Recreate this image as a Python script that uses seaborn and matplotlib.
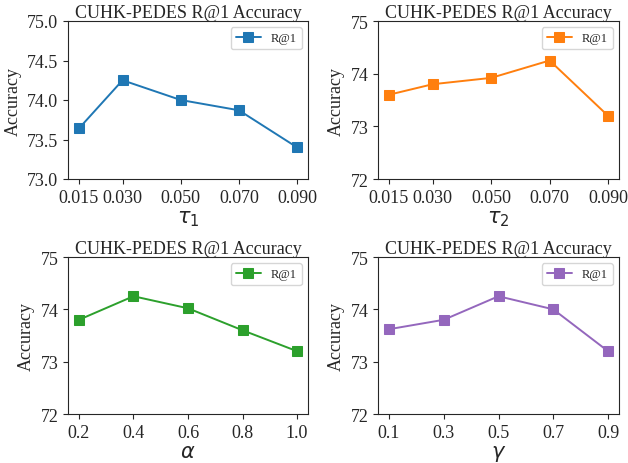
import pandas as pd
import numpy as np
import matplotlib
matplotlib.use("Agg")
import matplotlib.pyplot as plt
import seaborn as sns

# valores (R@1 no CUHK-PEDES)
tau1 = [0.015, 0.030, 0.050, 0.070, 0.090]
acc_tau1 = [73.64, 74.25, 74.00, 73.87, 73.40]

tau2 = [0.015, 0.030, 0.050, 0.070, 0.090]
acc_tau2 = [73.60, 73.80, 73.92, 74.25, 73.20]

alpha = [0.2, 0.4, 0.6, 0.8, 1.0]
acc_alpha = [73.80, 74.25, 74.02, 73.60, 73.20]

gamma = [0.1, 0.3, 0.5, 0.7, 0.9]
acc_gamma = [73.62, 73.80, 74.25, 74.00, 73.20]

tau_ticks = ["0.015", "0.030", "0.050", "0.070", "0.090"]
alpha_ticks = ["0.2", "0.4", "0.6", "0.8", "1.0"]
gamma_ticks = ["0.1", "0.3", "0.5", "0.7", "0.9"]

sns.set_style("ticks")
plt.rcParams['font.family'] = ['Liberation Serif', 'DejaVu Sans']
plt.rcParams['mathtext.fontset'] = 'dejavusans'

pal = sns.color_palette("tab10")

fig = plt.figure(figsize=(6.28, 4.64), dpi=100)

# posicoes dos eixos em pixels: esquerda, topo, direita, base
px = [(68, 22, 308, 180), (378, 22, 619, 180),
      (68, 258, 308, 415), (378, 258, 619, 415)]
W, H = 628, 464
boxes = [[l / W, 1 - b / H, (r - l) / W, (b - t) / H] for l, t, r, b in px]

panels = [
    (tau1, acc_tau1, tau_ticks, r"$\tau_1$", pal[0], (73.0, 75.0), [73.0, 73.5, 74.0, 74.5, 75.0], "%.1f"),
    (tau2, acc_tau2, tau_ticks, r"$\tau_2$", pal[1], (72, 75), [72, 73, 74, 75], "%d"),
    (alpha, acc_alpha, alpha_ticks, r"$\alpha$", pal[2], (72, 75), [72, 73, 74, 75], "%d"),
    (gamma, acc_gamma, gamma_ticks, r"$\gamma$", pal[4], (72, 75), [72, 73, 74, 75], "%d"),
]

for box, (xs, ys, xt, xl, col, ylim, yt, fmt) in zip(boxes, panels):
    ax = fig.add_axes(box)
    df = pd.DataFrame({"x": xs, "y": ys})
    sns.lineplot(data=df, x="x", y="y", ax=ax, color=col, marker="s",
                 markersize=7, markeredgecolor=col, linewidth=1.4, label="R@1")
    ax.set_ylim(*ylim)
    ax.set_yticks(yt)
    ax.set_yticklabels([fmt % v for v in yt])
    ax.set_xticks(xs)
    ax.set_xticklabels(xt)
    ax.tick_params(labelsize=13)
    ax.set_ylabel("Accuracy", fontsize=13)
    ax.set_xlabel(xl, fontsize=15, labelpad=2)
    ax.set_title("CUHK-PEDES R@1 Accuracy", fontsize=13, pad=3)
    ax.legend(loc="upper right", fontsize=9)

fig.savefig("out.png", dpi=100)
